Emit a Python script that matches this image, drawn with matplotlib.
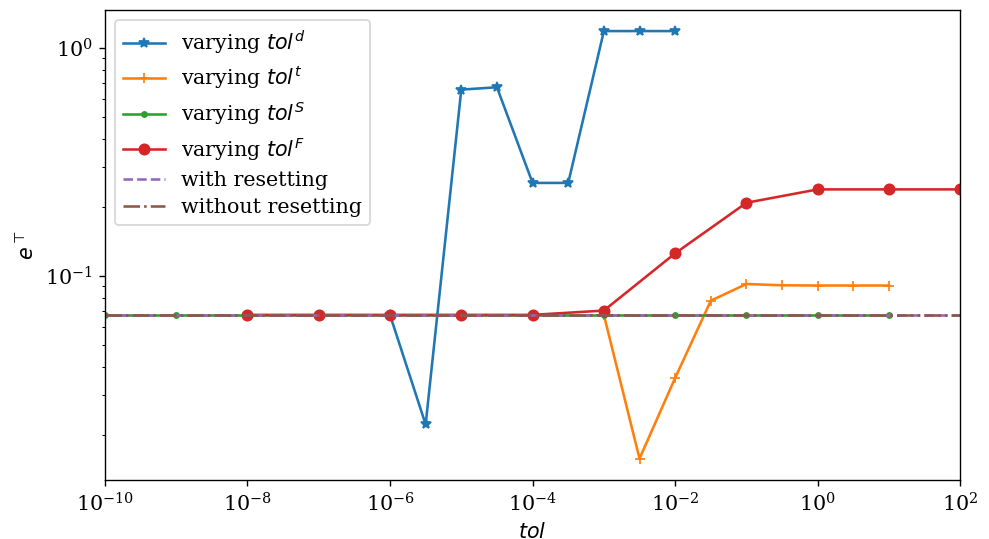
import numpy as np
import matplotlib
matplotlib.use("Agg")
import matplotlib.pyplot as plt

plt.rcParams["font.family"] = "serif"
plt.rcParams["font.serif"] = ["DejaVu Serif"]
plt.rcParams["mathtext.fontset"] = "dejavusans"
plt.rcParams["font.size"] = 12

# tolerance sweeps (half-decade steps for tol^d and tol^t, decades for the others)
tol_d = [1e-6, 10**-5.5, 1e-5, 10**-4.5, 1e-4, 10**-3.5, 1e-3, 10**-2.5, 1e-2]
err_d = [0.0675, 0.0223, 0.657, 0.673, 0.256, 0.256, 1.187, 1.187, 1.187]

tol_t = [1e-3, 10**-2.5, 1e-2, 10**-1.5, 1e-1, 10**-0.5, 1e0, 10**0.5, 1e1]
err_t = [0.0675, 0.0158, 0.0357, 0.0779, 0.0922, 0.0910, 0.0908, 0.0908, 0.0908]

tol_S = [1e-10, 1e-9, 1e-8, 1e-7, 1e-6, 1e-5, 1e-4, 1e-3, 1e-2, 1e-1, 1e0, 1e1]
err_S = [0.0675] * len(tol_S)

tol_F = [1e-8, 1e-7, 1e-6, 1e-5, 1e-4, 1e-3, 1e-2, 1e-1, 1e0, 1e1, 1e2]
err_F = [0.0675, 0.0675, 0.0675, 0.0675, 0.0675, 0.0705, 0.1257, 0.2095, 0.2398, 0.2398, 0.2398]

tol_ref = [1e-10, 1e2]
err_reset = [0.0675, 0.0675]
err_noreset = [0.0675, 0.0675]

dpi = 123.6
fig = plt.figure(figsize=(989 / dpi, 539 / dpi), dpi=dpi)
ax = fig.add_axes([0.106, 0.1095, 0.865, 0.8725])

ax.plot(tol_d, err_d, marker="*", color="C0", label=r"varying $tol^d$")
ax.plot(tol_t, err_t, marker="+", color="C1", label=r"varying $tol^t$")
ax.plot(tol_S, err_S, marker=".", color="C2", label=r"varying $tol^S$")
ax.plot(tol_F, err_F, marker="o", color="C3", label=r"varying $tol^F$")
ax.plot(tol_ref, err_reset, "--", color="C4", label="with resetting")
ax.plot(tol_ref, err_noreset, "-.", color="C5", label="without resetting")

ax.set_xscale("log")
ax.set_yscale("log")
ax.set_xlim(1e-10, 1e2)
ax.set_xlabel(r"$tol$")
ax.set_ylabel(r"$e^\top$")
ax.legend(loc="upper left", labelspacing=0.4)

plt.savefig("out.png", dpi=dpi)
